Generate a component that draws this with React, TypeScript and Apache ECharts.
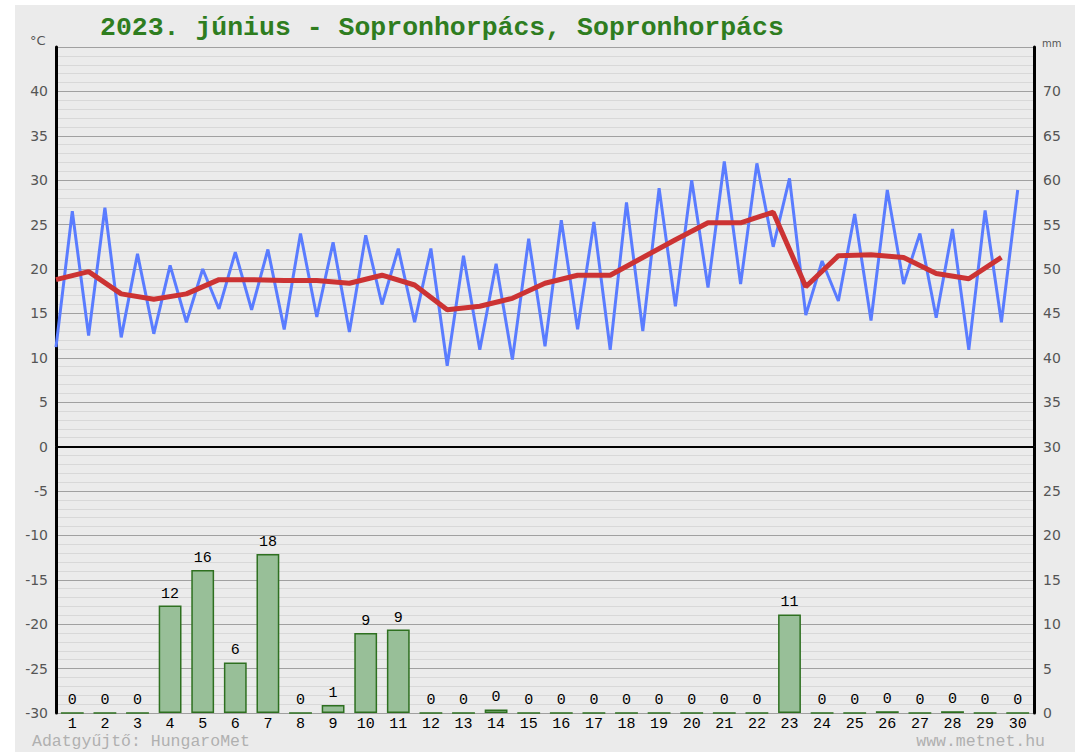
import React, { useEffect, useRef } from "react";
import * as echarts from "echarts";

const days = ["1","2","3","4","5","6","7","8","9","10","11","12","13","14","15","16","17","18","19","20","21","22","23","24","25","26","27","28","29","30"];
// daily minimum (plotted at start of day) and maximum (mid-day), °C
const tMin = [11.2, 12.5, 12.3, 12.7, 14.0, 15.5, 15.4, 13.2, 14.6, 12.9, 16.0, 14.0, 9.1, 10.9, 9.8, 11.3, 13.2, 10.9, 13.0, 15.8, 17.9, 18.3, 22.5, 14.8, 16.4, 14.2, 18.3, 14.5, 10.9, 14.0];
const tMax = [26.5, 26.9, 21.7, 20.4, 20.0, 21.9, 22.2, 24.0, 23.0, 23.8, 22.3, 22.3, 21.5, 20.6, 23.4, 25.5, 25.3, 27.5, 29.1, 30.0, 32.1, 31.9, 30.2, 20.9, 26.2, 28.9, 24.0, 24.5, 26.6, 28.9];
// daily mean temperature, °C
const tAvg = [18.8, 19.7, 17.2, 16.6, 17.2, 18.8, 18.8, 18.7, 18.7, 18.4, 19.3, 18.2, 15.4, 15.8, 16.7, 18.4, 19.3, 19.3, 21.3, 23.3, 25.2, 25.2, 26.4, 18.0, 21.5, 21.6, 21.3, 19.5, 18.9, 21.3];
// daily precipitation, mm
const precip = [0, 0, 0, 12.1, 16.1, 5.7, 17.9, 0, 0.9, 9.0, 9.4, 0, 0, 0.4, 0, 0, 0, 0, 0, 0, 0, 0, 11.1, 0, 0, 0.2, 0, 0.2, 0, 0];

const titleText = "2023. június - Sopronhorpács, Sopronhorpács";
const footerLeft = "Adatgyűjtő: HungaroMet";
const footerRight = "www.metnet.hu";

export default function App() {
  const ref = useRef<HTMLDivElement>(null);
  useEffect(() => {
    document.body.style.margin = "0";
    const chart = echarts.init(ref.current!, null, { renderer: "svg" });
    const blue: number[][] = [];
    tMin.forEach((v, i) => {
      blue.push([2 * i, v]);
      blue.push([2 * i + 1, tMax[i]]);
    });
    const red = tAvg.map((v, i) => [2 * i, v]);
    const mono = "Liberation Mono";
    chart.setOption({
      animation: false,
      backgroundColor: "#ebebeb",
      graphic: [
        { type: "rect", shape: { x: 0, y: 0, width: 1075, height: 5 }, style: { fill: "#ffffff" }, silent: true },
        { type: "rect", shape: { x: 0, y: 0, width: 15, height: 752 }, style: { fill: "#ffffff" }, silent: true },
        {
          type: "text", x: 100, y: 28,
          style: { text: titleText, fill: "#2f7d1f", font: "bold 26.5px 'Liberation Mono'", verticalAlign: "middle", align: "left" },
        },
        {
          type: "text", x: 30, y: 40,
          style: { text: "°C", fill: "#555", font: "13px 'DejaVu Sans'", verticalAlign: "middle", align: "left" },
        },
        {
          type: "text", x: 1042, y: 43,
          style: { text: "mm", fill: "#555", font: "10px 'DejaVu Sans'", verticalAlign: "middle", align: "left" },
        },
        {
          type: "text", x: 32, y: 741,
          style: { text: footerLeft, fill: "#b0b0b0", font: "16.5px 'Liberation Mono'", verticalAlign: "middle", align: "left" },
        },
        {
          type: "text", x: 1045, y: 741,
          style: { text: footerRight, fill: "#b0b0b0", font: "16.5px 'Liberation Mono'", verticalAlign: "middle", align: "right" },
        },
      ],
      grid: { left: 56, right: 41, top: 47, bottom: 39 },
      xAxis: [
        {
          type: "category", data: days, boundaryGap: true,
          axisTick: { show: false },
          axisLine: { show: true, lineStyle: { color: "#333", width: 1 } },
          axisLabel: { color: "#000", fontFamily: mono, fontSize: 15, margin: 4 },
          splitLine: { show: false },
        },
        { type: "value", min: 0, max: 60, show: false },
      ],
      yAxis: [
        {
          type: "value", min: -30, max: 45, interval: 5, position: "left",
          axisLine: { show: true, onZero: false, lineStyle: { color: "#000", width: 3 } },
          axisTick: { show: false },
          axisLabel: {
            color: "#555", fontFamily: "DejaVu Sans", fontSize: 14, margin: 8,
            formatter: (v: number) => (v === 45 ? "" : String(v)),
          },
          splitLine: { show: true, lineStyle: { color: "#a0a0a0", width: 1 } },
          minorTick: { show: false, splitNumber: 5 },
          minorSplitLine: { show: true, lineStyle: { color: "#d8d8d8", width: 1 } },
        },
        {
          type: "value", min: 0, max: 75, interval: 5, position: "right",
          axisLine: { show: true, onZero: false, lineStyle: { color: "#000", width: 3 } },
          axisTick: { show: false },
          axisLabel: {
            color: "#555", fontFamily: "DejaVu Sans", fontSize: 14, margin: 9,
            formatter: (v: number) => (v === 75 ? "" : String(v)),
          },
          splitLine: { show: false },
        },
      ],
      series: [
        {
          type: "bar", xAxisIndex: 0, yAxisIndex: 1, data: precip, barWidth: "70%",
          itemStyle: { color: "#98bf98", borderColor: "#2e7020", borderWidth: 1.5 },
          label: {
            show: true, position: "top", distance: 4, color: "#000", fontFamily: mono, fontSize: 15,
            formatter: (p: any) => String(Math.round(p.value)),
          },
          z: 2,
        },
        {
          type: "line", xAxisIndex: 1, yAxisIndex: 0, data: blue, symbol: "none",
          lineStyle: { color: "#5a7cff", width: 3 }, z: 3,
          markLine: {
            silent: true, symbol: "none", label: { show: false },
            lineStyle: { color: "#000", width: 2, type: "solid" },
            data: [{ yAxis: 0 }],
          },
        },
        {
          type: "line", xAxisIndex: 1, yAxisIndex: 0, data: red, symbol: "none",
          lineStyle: { color: "#cc3333", width: 5 }, z: 4,
        },
      ],
    });
    return () => chart.dispose();
  }, []);
  return <div ref={ref} style={{ width: 1075, height: 752 }} />;
}
